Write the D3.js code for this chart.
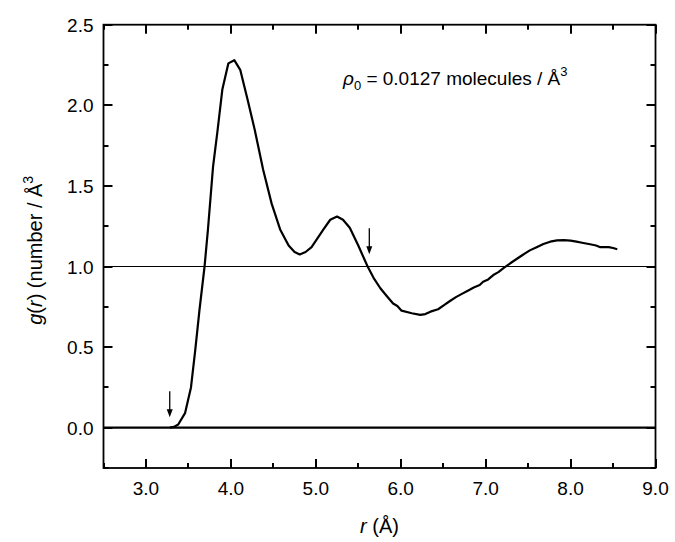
<!DOCTYPE html>
<html>
<head>
<meta charset="utf-8">
<script src="https://cdn.jsdelivr.net/npm/d3@7"></script>
<style>
  body { margin: 0; background: #fff; }
  svg text { font-family: "Liberation Sans", Arial, sans-serif; fill: #000; }
</style>
</head>
<body>
<div class="chart"></div>
<script>
// g(r) curve
const rValues = [3.28, 3.33, 3.38, 3.46, 3.53, 3.58, 3.63, 3.69, 3.73, 3.79, 3.84, 3.90, 3.97, 4.04, 4.11,
  4.19, 4.28, 4.38, 4.48, 4.58, 4.68, 4.75, 4.81, 4.88, 4.95, 5.09, 5.17, 5.25, 5.32, 5.40, 5.50, 5.61,
  5.68, 5.76, 5.83, 5.91, 5.96, 6.01, 6.13, 6.23, 6.29, 6.35, 6.44, 6.51, 6.58, 6.65, 6.72, 6.79, 6.86,
  6.93, 6.97, 7.03, 7.09, 7.15, 7.21, 7.29, 7.36, 7.43, 7.52, 7.60, 7.68, 7.76, 7.84, 7.92, 8.00, 8.07,
  8.15, 8.23, 8.30, 8.35, 8.45, 8.50, 8.55];
const gValues = [0.00, 0.005, 0.02, 0.09, 0.25, 0.48, 0.73, 1.00, 1.23, 1.62, 1.83, 2.10, 2.26, 2.28, 2.22,
  2.05, 1.85, 1.60, 1.39, 1.23, 1.13, 1.09, 1.075, 1.09, 1.12, 1.23, 1.29, 1.31, 1.29, 1.24, 1.13, 1.00,
  0.93, 0.865, 0.82, 0.77, 0.755, 0.726, 0.71, 0.70, 0.705, 0.72, 0.735, 0.76, 0.786, 0.81, 0.83, 0.85, 0.87,
  0.885, 0.905, 0.92, 0.947, 0.965, 0.99, 1.02, 1.045, 1.07, 1.10, 1.12, 1.14, 1.154, 1.162, 1.164, 1.16, 1.154,
  1.146, 1.138, 1.13, 1.12, 1.12, 1.115, 1.107];

const xTicks = [3, 4, 5, 6, 7, 8, 9];
const xMinor = [2.5, 3.5, 4.5, 5.5, 6.5, 7.5, 8.5];
const yTicks = [0, 0.5, 1.0, 1.5, 2.0, 2.5];
const yMinor = [-0.25, 0.25, 0.75, 1.25, 1.75, 2.25];
const refLines = [0, 1];
const arrowR = [3.28, 5.63];
const arrowG = [0.065, 1.076];

const w = 675, h = 542;
const mLeft = 103.5, mRight = 655.5, mTop = 24.7, mBottom = 468;

const svg = d3.select(".chart").append("svg").attr("width", w).attr("height", h);

const x = d3.scaleLinear().domain([2.5, 9.0]).range([mLeft, mRight]);
const y = d3.scaleLinear().domain([-0.25, 2.5]).range([mBottom, mTop]);
const fmt = d3.format(".1f");

// tick marks drawn as thin rects, pointing inward on every side
const tickRects = [];
xTicks.forEach(v => tickRects.push({ kind: "x", v, len: 9 }));
xMinor.forEach(v => tickRects.push({ kind: "x", v, len: 5 }));
yTicks.forEach(v => tickRects.push({ kind: "y", v, len: 9 }));
yMinor.forEach(v => tickRects.push({ kind: "y", v, len: 5 }));

tickRects.forEach(t => {
  if (t.kind === "x") {
    const px = Math.round(x(t.v));
    svg.append("rect").attr("x", px - 1).attr("y", mBottom - t.len).attr("width", 2).attr("height", t.len).attr("fill", "#000");
    svg.append("rect").attr("x", px - 1).attr("y", mTop).attr("width", 2).attr("height", t.len).attr("fill", "#000");
  } else {
    const py = Math.round(y(t.v));
    svg.append("rect").attr("x", mLeft).attr("y", py - 1).attr("width", t.len).attr("height", 2).attr("fill", "#000");
    svg.append("rect").attr("x", mRight - t.len).attr("y", py - 1).attr("width", t.len).attr("height", 2).attr("fill", "#000");
  }
});

// tick labels
svg.selectAll(".xlab")
  .data(xTicks)
  .enter()
  .append("text")
  .attr("x", d => x(d)).attr("y", mBottom + 27)
  .attr("text-anchor", "middle").style("font-size", "19px")
  .text(fmt);
svg.selectAll(".ylab")
  .data(yTicks)
  .enter()
  .append("text")
  .attr("x", mLeft - 10).attr("y", d => y(d) + 7)
  .attr("text-anchor", "end").style("font-size", "19px")
  .text(fmt);

// reference lines at 0 and 1
svg.selectAll(".ref")
  .data(refLines)
  .enter()
  .append("line")
  .attr("x1", mLeft).attr("x2", mRight)
  .attr("y1", d => y(d)).attr("y2", d => y(d))
  .attr("stroke", "#000")
  .attr("stroke-width", d => d === 0 ? 2.2 : 1.2);

// frame
svg.append("rect")
  .attr("x", mLeft).attr("y", mTop)
  .attr("width", mRight - mLeft).attr("height", mBottom - mTop)
  .attr("fill", "none").attr("stroke", "#000").attr("stroke-width", 1.8);

// curve
const pts = rValues.map((r, i) => [r, gValues[i]]);
svg.append("path")
  .datum(pts)
  .attr("fill", "none")
  .attr("stroke", "#000")
  .attr("stroke-width", 2.2)
  .attr("stroke-linejoin", "round")
  .attr("d", d3.line().x(d => x(d[0])).y(d => y(d[1])));

// arrows
arrowR.forEach((r, i) => {
  const ax = x(r), ay = y(arrowG[i]);
  svg.append("line")
    .attr("x1", ax).attr("x2", ax)
    .attr("y1", ay - 26).attr("y2", ay - 6)
    .attr("stroke", "#000").attr("stroke-width", 1.3);
  svg.append("path")
    .attr("d", `M${ax - 3},${ay - 8} L${ax + 3},${ay - 8} L${ax},${ay} Z`)
    .attr("fill", "#000");
});

// annotation
const ann = svg.append("text").attr("x", 343).attr("y", 85).style("font-size", "19px");
ann.append("tspan").attr("font-style", "italic").text("ρ");
ann.append("tspan").attr("dy", 5).style("font-size", "13px").text("0");
ann.append("tspan").attr("dy", -5).text(" = 0.0127 molecules / Å");
ann.append("tspan").attr("dy", -9).style("font-size", "13px").text("3");

// axis titles
const xt = svg.append("text")
  .attr("x", (mLeft + mRight) / 2).attr("y", 533)
  .attr("text-anchor", "middle").style("font-size", "20px");
xt.append("tspan").attr("font-style", "italic").text("r");
xt.append("tspan").text(" (Å)");

const yt = svg.append("text")
  .attr("transform", `translate(42,${(mTop + mBottom) / 2 + 4}) rotate(-90)`)
  .attr("text-anchor", "middle").style("font-size", "20px");
yt.append("tspan").attr("font-style", "italic").text("g");
yt.append("tspan").text("(");
yt.append("tspan").attr("font-style", "italic").text("r");
yt.append("tspan").text(") (number / Å");
yt.append("tspan").attr("dy", -9).style("font-size", "14px").text("3");
</script>
</body>
</html>
